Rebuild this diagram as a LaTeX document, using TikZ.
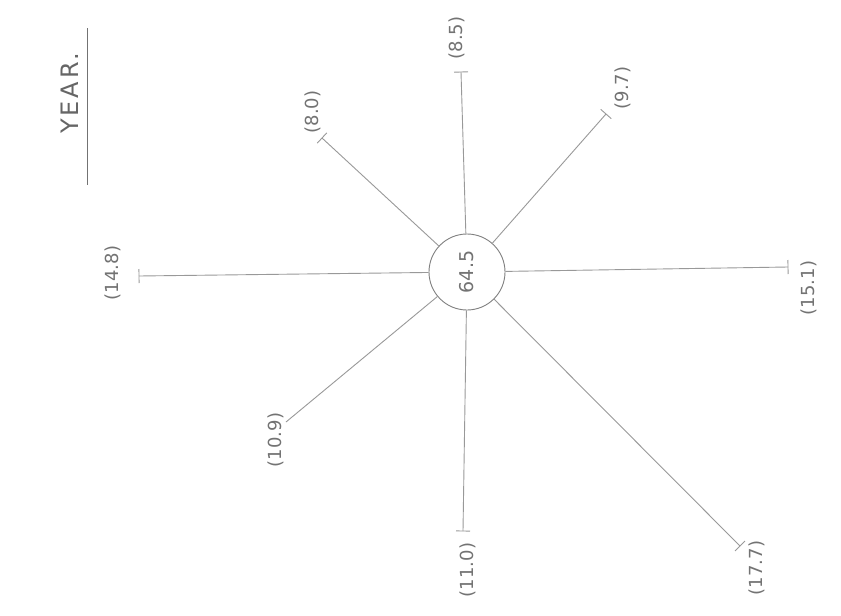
\documentclass[tikz,border=0pt]{standalone}
\usepackage{fontspec}
\setsansfont{DejaVu Sans}
\usetikzlibrary{calc}
\begin{document}
\begin{tikzpicture}[x=1pt,y=-1pt,
  spoke/.style={draw=black!40, line width=0.9pt},
  lbl/.style={rotate=90, text=black!55, font=\sffamily\fontsize{18}{18}\selectfont, inner sep=1pt},
  title/.style={rotate=90, text=black!60, font=\sffamily\fontsize{24}{24}\selectfont\addfontfeature{LetterSpace=12}, inner sep=1pt}]
\useasboundingbox[fill=white] (0,0) rectangle (841,616);
% centre
\node[circle, draw=black!50, line width=0.9pt, minimum size=76pt, inner sep=0pt] (c) at (467,272) {};
\node[lbl, font=\sffamily\fontsize{19}{19}\selectfont] (cv) at (c) {64.5};
% spoke ends
\coordinate (pW)  at (139,276);
\coordinate (pNW) at (322,138);
\coordinate (pN)  at (461,72);
\coordinate (pNE) at (606,114);
\coordinate (pE)  at (788,267);
\coordinate (pSW) at (286,422);
\coordinate (pS)  at (463,531);
\coordinate (pSE) at (740,546);
\foreach \p in {pW,pNW,pN,pNE,pE,pS,pSE}{
  \draw[spoke] (c) -- (\p);
  \draw[spoke] ($(\p)!7pt!90:(c)$) -- ($(\p)!7pt!-90:(c)$);
}
\draw[spoke] (c) -- (pSW);
% labels
\node[lbl] (lW)  at (113,273) {(14.8)};
\node[lbl] (lNW) at (313,112) {(8.0)};
\node[lbl] (lN)  at (457,38)  {(8.5)};
\node[lbl] (lNE) at (623,88)  {(9.7)};
\node[lbl] (lE)  at (809,288) {(15.1)};
\node[lbl] (lSW) at (276,440) {(10.9)};
\node[lbl] (lS)  at (468,570) {(11.0)};
\node[lbl] (lSE) at (757,568) {(17.7)};
% title
\node[title] (t) at (70,93) {YEAR.};
\coordinate (u1) at (87,28);
\coordinate (u2) at (87,185);
\draw[draw=black!55, line width=0.9pt] (u1) -- (u2);
\end{tikzpicture}
\end{document}
